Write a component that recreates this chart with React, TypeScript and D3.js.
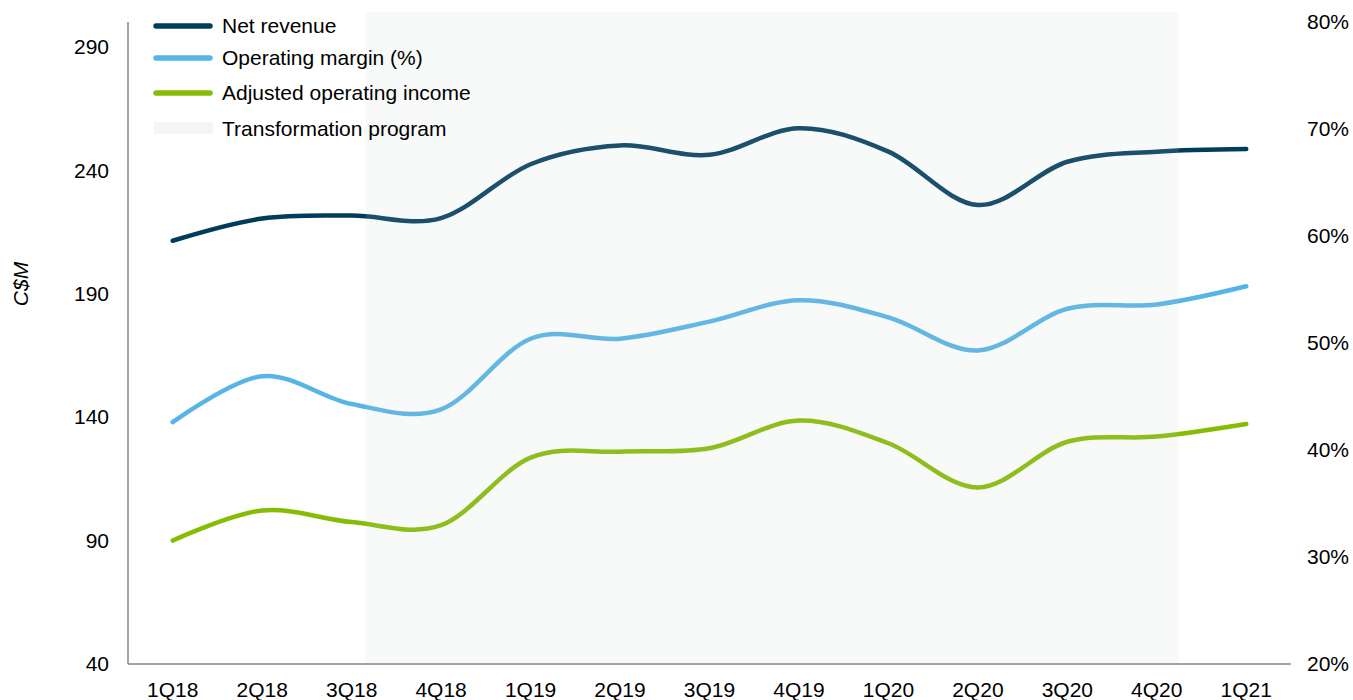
import React from "react";
import * as d3 from "d3";

const categories = ["1Q18","2Q18","3Q18","4Q18","1Q19","2Q19","3Q19","4Q19","1Q20","2Q20","3Q20","4Q20","1Q21"];
const netRevenue = [211.4, 220.4, 221.6, 220.6, 242.4, 250.0, 246.2, 257.0, 247.5, 225.9, 243.4, 247.5, 248.6];
const operatingMargin = [42.6, 46.9, 44.3, 43.8, 50.4, 50.4, 52.0, 54.0, 52.4, 49.3, 53.2, 53.6, 55.3];
const adjustedOperatingIncome = [90.0, 102.2, 97.5, 96.2, 123.6, 126.0, 127.4, 138.6, 129.4, 111.5, 130.0, 132.1, 137.2];
const leftTicks = [40, 90, 140, 190, 240, 290];
const rightTicks = [20, 30, 40, 50, 60, 70, 80];
const shadeStartIndex = 2.16;
const shadeEndIndex = 11.24;

const W = 1353, H = 700;
const left = 128, right = 1291, top = 22, bottom = 664;
const FONT = "'Liberation Sans', Arial, sans-serif";

export default function App() {
  const x = d3.scaleBand<string>().domain(categories).range([left, right]).padding(0);
  const cx = (i: number) => (x(categories[0]) as number) + x.bandwidth() / 2 + i * x.step();
  const yL = d3.scaleLinear().domain([40, 300]).range([bottom, top]);
  const yR = d3.scaleLinear().domain([20, 80]).range([bottom, top]);

  const lineL = d3.line<number>().x((_, i) => cx(i)).y((d) => yL(d)).curve(d3.curveCardinal.tension(0));
  const lineR = d3.line<number>().x((_, i) => cx(i)).y((d) => yR(d)).curve(d3.curveCardinal.tension(0));

  const series = [
    { name: "Net revenue", color: "#003d5c", d: lineL(netRevenue) },
    { name: "Operating margin (%)", color: "#56b4e6", d: lineR(operatingMargin) },
    { name: "Adjusted operating income", color: "#86bc04", d: lineL(adjustedOperatingIncome) },
  ];
  const legendY = [26, 58, 93];

  const sx0 = cx(shadeStartIndex), sx1 = cx(shadeEndIndex);

  return (
    <svg width={W} height={H} style={{ position: "absolute", left: 0, top: 0, background: "#fff" }} fontFamily={FONT}>
      {/* series */}
      {series.map((s) => (
        <path key={s.name} d={s.d || ""} fill="none" stroke={s.color} strokeWidth={4.5} strokeLinecap="round" />
      ))}
      {/* shade overlay */}
      <rect x={sx0} y={12} width={sx1 - sx0} height={bottom - 12} fill="rgb(200,210,212)" fillOpacity={0.13} />
      {/* axes */}
      <line x1={left} x2={left} y1={top} y2={bottom} stroke="#868686" strokeWidth={1.5} />
      <line x1={left} x2={right} y1={bottom} y2={bottom} stroke="#868686" strokeWidth={1.5} />
      {leftTicks.map((t) => (
        <text key={t} x={109} y={yL(t)} dy="0.35em" textAnchor="end" fontSize={21} fill="#000">{t}</text>
      ))}
      {rightTicks.map((t) => (
        <text key={t} x={1307} y={yR(t)} dy="0.35em" textAnchor="start" fontSize={21} fill="#000">{t}%</text>
      ))}
      {categories.map((c, i) => (
        <text key={c} x={cx(i)} y={697} textAnchor="middle" fontSize={21} fill="#000">{c}</text>
      ))}
      <text transform={`translate(28,284) rotate(-90)`} textAnchor="middle" fontSize={21} fontStyle="italic" fill="#000">C$M</text>
      {/* legend */}
      {series.map((s, i) => (
        <g key={s.name}>
          <line x1={156} x2={210} y1={legendY[i]} y2={legendY[i]} stroke={s.color} strokeWidth={5.5} strokeLinecap="round" />
          <text x={222} y={legendY[i]} dy="0.35em" fontSize={21} fill="#000">{s.name}</text>
        </g>
      ))}
      <rect x={154} y={122} width={59} height={12} fill="#f5f5f5" />
      <text x={222} y={129} dy="0.35em" fontSize={21} fill="#000">Transformation program</text>
    </svg>
  );
}
